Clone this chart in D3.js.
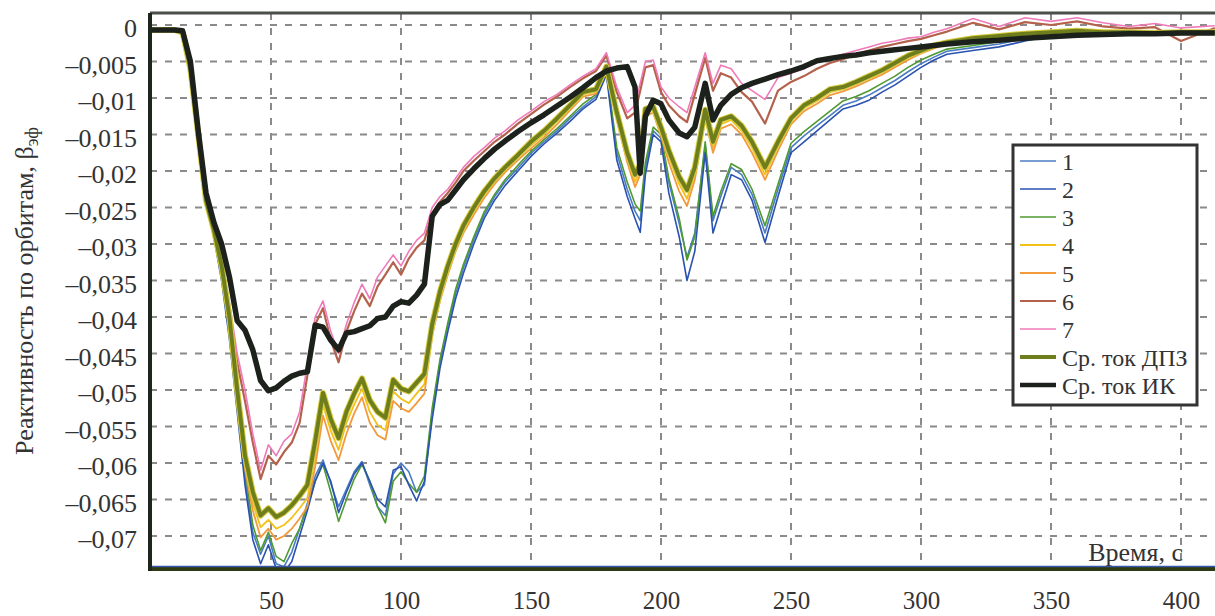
<!DOCTYPE html>
<html><head><meta charset="utf-8">
<script src="https://cdn.jsdelivr.net/npm/d3@7"></script>
<style>body{margin:0;background:#fff}svg{display:block}svg text{fill:#333}</style>
</head><body><svg id="c" width="1215" height="616"></svg>
<script>
const time = [3,8,13,16,19,22,25,28,31,34, 37,40,43,46,49,52,55,58,61,64, 67,70,73,76,79,82,85,88,91,94,
 97,100,103,106,109,112,115,118,121,124, 128,132,136,140,145,150,155,160,165,170, 175,179,183,187,190,192,194,197,200,203,
 207,210,213,217,220,223,227,231,235,240, 245,250,255,260,265,270,275,280,285,290, 295,300,305,310,320,330,340,350,360,370, 380,390,400,413];

const orbit1 = [-.0007,-.0007,-.0007,-.0011,-.0068,-.0158,-.0238,-.0288,-.0345,-.0425,
 -.0520,-.0620,-.0695,-.0725,-.0700,-.0738,-.0742,-.0722,-.0690,-.0655,
 -.0618,-.0596,-.0628,-.0660,-.0636,-.0612,-.0598,-.0630,-.0660,-.0672,
 -.0615,-.0600,-.0612,-.0640,-.0630,-.0530,-.0462,-.0412,-.0368,-.0333,
 -.0294,-.0260,-.0235,-.0215,-.0196,-.0176,-.0160,-.0145,-.0128,-.0112,
 -.0098,-.0066,-.0175,-.0225,-.0255,-.0268,-.0195,-.0145,-.0155,-.0215,
 -.0272,-.0318,-.0285,-.0165,-.0268,-.0235,-.0195,-.0205,-.0232,-.0285,
 -.0225,-.0168,-.0152,-.0138,-.0124,-.0110,-.0104,-.0096,-.0086,-.0076,
 -.0064,-.0053,-.0044,-.0036,-.0031,-.0026,-.0019,-.0013,-.0010,-.0011,
 -.0009,-.0011,-.0009,-.0011];
const orbit2 = [-.0007,-.0007,-.0007,-.0012,-.0070,-.0160,-.0240,-.0290,-.0350,-.0430,
 -.0530,-.0630,-.0705,-.0738,-.0712,-.0745,-.0750,-.0735,-.0700,-.0665,
 -.0625,-.0600,-.0625,-.0668,-.0640,-.0615,-.0600,-.0625,-.0650,-.0660,
 -.0610,-.0605,-.0630,-.0652,-.0625,-.0540,-.0470,-.0420,-.0375,-.0340,
 -.0300,-.0265,-.0240,-.0220,-.0200,-.0180,-.0163,-.0148,-.0132,-.0115,
 -.0102,-.0068,-.0185,-.0235,-.0265,-.0284,-.0205,-.0150,-.0160,-.0230,
 -.0290,-.0350,-.0310,-.0175,-.0285,-.0250,-.0205,-.0212,-.0240,-.0298,
 -.0235,-.0175,-.0160,-.0145,-.0130,-.0115,-.0110,-.0103,-.0092,-.0082,
 -.0070,-.0058,-.0048,-.0040,-.0035,-.0030,-.0022,-.0015,-.0012,-.0012,
 -.0010,-.0012,-.0010,-.0012];
const orbit3 = [-.0007,-.0007,-.0007,-.0011,-.0065,-.0155,-.0235,-.0285,-.0340,-.0418,
 -.0512,-.0608,-.0685,-.0720,-.0695,-.0728,-.0735,-.0710,-.0690,-.0660,
 -.0625,-.0602,-.0640,-.0680,-.0650,-.0622,-.0602,-.0625,-.0660,-.0682,
 -.0625,-.0612,-.0628,-.0640,-.0618,-.0525,-.0458,-.0408,-.0362,-.0328,
 -.0290,-.0256,-.0232,-.0212,-.0192,-.0173,-.0157,-.0142,-.0125,-.0108,
 -.0095,-.0064,-.0168,-.0215,-.0245,-.0255,-.0188,-.0140,-.0150,-.0210,
 -.0265,-.0322,-.0290,-.0160,-.0262,-.0228,-.0190,-.0198,-.0225,-.0275,
 -.0218,-.0162,-.0146,-.0132,-.0118,-.0104,-.0098,-.0090,-.0080,-.0070,
 -.0058,-.0048,-.0040,-.0033,-.0028,-.0023,-.0017,-.0012,-.0009,-.0012,
 -.0008,-.0013,-.0010,-.0012];
const orbit4 = [-.0007,-.0007,-.0007,-.0010,-.0062,-.0152,-.0242,-.0282,-.0335,-.0408,
 -.0508,-.0598,-.0655,-.0688,-.0678,-.0690,-.0685,-.0675,-.0662,-.0648,
 -.0592,-.0520,-.0556,-.0582,-.0545,-.0520,-.0498,-.0530,-.0548,-.0555,
 -.0502,-.0512,-.0518,-.0505,-.0492,-.0418,-.0372,-.0336,-.0305,-.0280,
 -.0255,-.0232,-.0214,-.0198,-.0181,-.0165,-.0150,-.0132,-.0114,-.0095,
 -.0091,-.0060,-.0125,-.0182,-.0215,-.0198,-.0120,-.0116,-.0146,-.0180,
 -.0218,-.0238,-.0205,-.0122,-.0168,-.0136,-.0130,-.0145,-.0168,-.0205,
 -.0166,-.0132,-.0114,-.0104,-.0092,-.0088,-.0081,-.0073,-.0065,-.0055,
 -.0045,-.0037,-.0030,-.0025,-.0019,-.0015,-.0013,-.0010,-.0009,-.0010,
 -.0011,-.0011,-.0010,-.0010];
const orbit5 = [-.0007,-.0007,-.0007,-.0010,-.0063,-.0153,-.0243,-.0284,-.0338,-.0412,
 -.0515,-.0608,-.0665,-.0702,-.0690,-.0705,-.0700,-.0690,-.0676,-.0660,
 -.0605,-.0535,-.0570,-.0596,-.0560,-.0532,-.0510,-.0545,-.0562,-.0568,
 -.0515,-.0525,-.0530,-.0518,-.0505,-.0425,-.0378,-.0342,-.0310,-.0285,
 -.0260,-.0237,-.0218,-.0202,-.0185,-.0169,-.0154,-.0136,-.0117,-.0098,
 -.0094,-.0062,-.0130,-.0188,-.0222,-.0205,-.0125,-.0120,-.0152,-.0188,
 -.0228,-.0248,-.0212,-.0128,-.0175,-.0142,-.0136,-.0150,-.0175,-.0212,
 -.0172,-.0136,-.0118,-.0108,-.0096,-.0091,-.0084,-.0076,-.0068,-.0058,
 -.0048,-.0039,-.0032,-.0026,-.0020,-.0016,-.0014,-.0011,-.0010,-.0011,
 -.0012,-.0012,-.0011,-.0011];
const orbit6 = [-.0006,-.0006,-.0006,-.0010,-.0060,-.0150,-.0240,-.0282,-.0325,-.0388,
 -.0462,-.0515,-.0572,-.0622,-.0590,-.0602,-.0585,-.0572,-.0545,-.0480,
 -.0410,-.0388,-.0432,-.0462,-.0420,-.0392,-.0368,-.0385,-.0358,-.0342,
 -.0325,-.0342,-.0320,-.0305,-.0295,-.0258,-.0242,-.0230,-.0216,-.0200,
 -.0186,-.0173,-.0160,-.0150,-.0135,-.0122,-.0109,-.0098,-.0085,-.0073,
 -.0063,-.0042,-.0092,-.0128,-.0120,-.0090,-.0058,-.0055,-.0092,-.0110,
 -.0125,-.0133,-.0095,-.0045,-.0090,-.0066,-.0072,-.0092,-.0105,-.0135,
 -.0090,-.0078,-.0070,-.0060,-.0052,-.0047,-.0040,-.0035,-.0030,-.0026,
 -.0022,-.0019,-.0014,-.0009,.0003,-.0006,.0004,.0000,.0005,-.0002,
 -.0005,-.0003,-.0022,-.0004];
const orbit7 = [-.0006,-.0006,-.0006,-.0010,-.0060,-.0150,-.0240,-.0280,-.0320,-.0380,
 -.0450,-.0500,-.0560,-.0610,-.0575,-.0590,-.0570,-.0560,-.0530,-.0465,
 -.0400,-.0378,-.0420,-.0450,-.0410,-.0380,-.0355,-.0375,-.0345,-.0330,
 -.0315,-.0330,-.0310,-.0295,-.0285,-.0250,-.0235,-.0225,-.0210,-.0195,
 -.0180,-.0168,-.0155,-.0145,-.0130,-.0118,-.0105,-.0095,-.0082,-.0070,
 -.0060,-.0038,-.0085,-.0120,-.0110,-.0080,-.0050,-.0048,-.0085,-.0100,
 -.0112,-.0120,-.0085,-.0038,-.0080,-.0055,-.0060,-.0080,-.0090,-.0102,
 -.0072,-.0066,-.0060,-.0050,-.0045,-.0040,-.0035,-.0030,-.0025,-.0022,
 -.0018,-.0016,-.0010,-.0005,.0009,-.0002,.0010,.0005,.0010,.0003,
 -.0002,.0002,-.0004,-.0001];
const meanDPZ = [-.0007,-.0007,-.0007,-.0010,-.0060,-.0150,-.0240,-.0280,-.0330,-.0400,
 -.0500,-.0590,-.0640,-.0672,-.0662,-.0674,-.0668,-.0658,-.0645,-.0630,
 -.0570,-.0504,-.0540,-.0566,-.0530,-.0505,-.0484,-.0514,-.0530,-.0538,
 -.0486,-.0498,-.0502,-.0490,-.0478,-.0410,-.0365,-.0330,-.0300,-.0275,
 -.0250,-.0228,-.0210,-.0195,-.0178,-.0160,-.0145,-.0128,-.0110,-.0092,
 -.0088,-.0057,-.0120,-.0175,-.0205,-.0190,-.0115,-.0112,-.0140,-.0172,
 -.0208,-.0226,-.0195,-.0116,-.0160,-.0130,-.0125,-.0138,-.0160,-.0195,
 -.0160,-.0128,-.0110,-.0100,-.0088,-.0085,-.0078,-.0070,-.0062,-.0052,
 -.0042,-.0035,-.0028,-.0024,-.0018,-.0015,-.0012,-.0010,-.0008,-.0010,
 -.0010,-.0011,-.0010,-.0010];
const meanIK = [-.0007,-.0007,-.0007,-.0008,-.0050,-.0145,-.0230,-.0270,-.0300,-.0345,
 -.0405,-.0418,-.0445,-.0487,-.0501,-.0497,-.0488,-.0481,-.0477,-.0475,
 -.0411,-.0414,-.0432,-.0445,-.0422,-.0420,-.0416,-.0412,-.0402,-.0400,
 -.0385,-.0379,-.0381,-.0370,-.0355,-.0262,-.0246,-.0240,-.0226,-.0212,
 -.0197,-.0183,-.0170,-.0159,-.0146,-.0134,-.0123,-.0111,-.0099,-.0086,
 -.0072,-.0063,-.0059,-.0057,-.0085,-.0203,-.0125,-.0103,-.0108,-.0130,
 -.0148,-.0153,-.0140,-.0080,-.0130,-.0110,-.0095,-.0086,-.0080,-.0074,
 -.0068,-.0063,-.0057,-.0049,-.0046,-.0043,-.0041,-.0038,-.0036,-.0034,
 -.0032,-.0030,-.0028,-.0026,-.0023,-.0021,-.0018,-.0016,-.0014,-.0013,
 -.0012,-.0012,-.0011,-.0011];

const seriesNames = ["1","2","3","4","5","6","7","Ср. ток ДПЗ","Ср. ток ИК"];
const yTicks = [0,-0.005,-0.01,-0.015,-0.02,-0.025,-0.03,-0.035,-0.04,-0.045,-0.05,-0.055,-0.06,-0.065,-0.07];
const yTickLabels = ["0","–0,005","–0,01","–0,015","–0,02","–0,025","–0,03","–0,035","–0,04","–0,045","–0,05","–0,055","–0,06","–0,065","–0,07"];
const xTicks = [50,100,150,200,250,300,350,400];
const xTickLabels = ["50","100","150","200","250","300","350","400"];

const allSeries = [orbit1,orbit2,orbit3,orbit4,orbit5,orbit6,orbit7,meanDPZ,meanIK];
const colors = ["#4a7cc4","#2a52b0","#4f9a30","#f2c21a","#f39a3c","#b4624c","#f07ab8","#6e7e1c","#1c211c"];
const widths = [1.6,1.6,1.6,1.8,1.8,2.2,1.6,4,5.5];
const FONT = '"Liberation Serif","Tinos","Noto Serif","FreeSerif","Times New Roman","DejaVu Serif",serif';

const svg = d3.select("#c");
const L = 150, R = 1215, T = 13, B = 567;
const x = d3.scaleLinear().domain([0,400]).range([141,1181]);
const y = d3.scaleLinear().domain([0,-0.07]).range([25,536]);

svg.append("defs").append("clipPath").attr("id","clip")
  .append("rect").attr("x",L).attr("y",T).attr("width",R-L).attr("height",B-T);

const grid = svg.append("g").attr("stroke","#8a8a8a").attr("stroke-width",2).attr("stroke-dasharray","7,8");
grid.selectAll("line.h").data(yTicks).join("line").attr("class","h")
  .attr("x1",L).attr("x2",R).attr("y1",d=>y(d)).attr("y2",d=>y(d));
grid.selectAll("line.v").data(xTicks).join("line").attr("class","v")
  .attr("y1",T).attr("y2",B).attr("x1",d=>x(d)).attr("x2",d=>x(d));

const gLines = svg.append("g").attr("clip-path","url(#clip)");
const line = d3.line().x((d,i)=>x(time[i])).y(d=>y(d));
const order = [0,2,1,3,4,5,6,7,8];
order.forEach(k=>{
  if(k===7){
    gLines.append("path").attr("d",line(allSeries[k])).attr("fill","none")
      .attr("stroke","#d8cc40").attr("stroke-width",6).attr("stroke-linejoin","round");
  }
  gLines.append("path").attr("d",line(allSeries[k])).attr("fill","none")
    .attr("stroke",colors[k]).attr("stroke-width",widths[k]).attr("stroke-linejoin","round");
});

svg.append("line").attr("x1",L).attr("x2",R).attr("y1",T).attr("y2",T).attr("stroke","#4a4f4a").attr("stroke-width",3);
svg.append("line").attr("x1",L).attr("x2",R).attr("y1",B+2).attr("y2",B+2).attr("stroke","#2e3a12").attr("stroke-width",4);
svg.append("line").attr("x1",L).attr("x2",R).attr("y1",B-0.5).attr("y2",B-0.5).attr("stroke","#3656a8").attr("stroke-width",1.5);
svg.append("line").attr("x1",L).attr("x2",L).attr("y1",T).attr("y2",B+4).attr("stroke","#1c261c").attr("stroke-width",4);

const yAxis = d3.axisLeft(y).tickValues(yTicks).tickFormat((d,i)=>yTickLabels[i]).tickSize(0).tickPadding(12);
const ya = svg.append("g").attr("transform",`translate(${L-1},0)`).call(yAxis).attr("font-family",FONT);
ya.select(".domain").remove();
ya.selectAll("text").attr("font-size",26).attr("fill","#333").attr("dy","0.45em");

const xAxis = d3.axisBottom(x).tickValues(xTicks).tickFormat((d,i)=>xTickLabels[i]).tickSize(0).tickPadding(24);
const xa = svg.append("g").attr("transform",`translate(0,${B})`).call(xAxis).attr("font-family",FONT);
xa.select(".domain").remove();
xa.selectAll("text").attr("font-size",25).attr("fill","#333");

const yt = svg.append("text").attr("transform","translate(33,291) rotate(-90)")
  .attr("text-anchor","middle").attr("font-size",26).attr("font-family",FONT);
yt.append("tspan").text("Реактивность по орбитам, β");
yt.append("tspan").attr("font-size",18).attr("dy",5).text("эф");
svg.append("text").attr("x",1183).attr("y",561).attr("text-anchor","end").attr("font-size",26).attr("font-family",FONT).text("Время, с");

const lg = svg.append("g").attr("font-family",FONT);
lg.append("rect").attr("x",1013).attr("y",145).attr("width",184).attr("height",260)
  .attr("fill","#fff").attr("stroke","#333").attr("stroke-width",3);
seriesNames.forEach((n,i)=>{
  const yy = 161 + i*28;
  lg.append("line").attr("x1",1020).attr("x2",1056).attr("y1",yy).attr("y2",yy)
    .attr("stroke",colors[i]).attr("stroke-width",Math.min(widths[i],4.5));
  lg.append("text").attr("x",1062).attr("y",yy).attr("dy","0.36em").attr("font-size",24).text(n);
});
</script></body></html>
